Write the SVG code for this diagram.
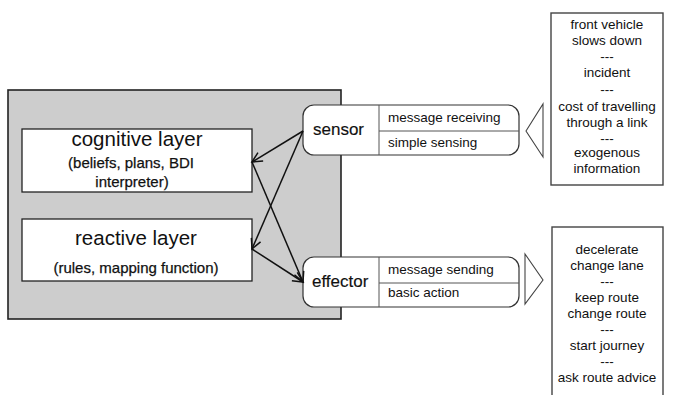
<svg xmlns="http://www.w3.org/2000/svg" width="680" height="395" viewBox="0 0 680 395">
  <defs>
    <style>
      text { font-family: "Liberation Sans", Arial, sans-serif; fill: #111; }
      .title { font-size: 20.5px; text-anchor: middle; }
      .sub { font-size: 15px; text-anchor: middle; stroke: #111; stroke-width: 0.25; }
      .io { font-size: 17px; stroke: #111; stroke-width: 0.15; }
      .item { font-size: 13.5px; }
      .list { font-size: 13.5px; text-anchor: middle; }
      .layer { fill: #fff; stroke: #222; stroke-width: 1.3; }
      .port { fill: #fff; stroke: #333; stroke-width: 1.2; }
      .div { stroke: #555; stroke-width: 1; }
      .info { fill: #fff; stroke: #444; stroke-width: 1.4; }
      .tri { fill: #fff; stroke: #444; stroke-width: 1.1; }
      .link { stroke: #111; stroke-width: 1.5; fill: none; marker-end: url(#arrow); }
    </style>
    <marker id="arrow" markerUnits="userSpaceOnUse" markerWidth="14" markerHeight="14" refX="11" refY="6" orient="auto">
      <path d="M1,1 L11,6 L1,11" fill="none" stroke="#111" stroke-width="1.5"/>
    </marker>
  </defs>

  <!-- agent body -->
  <g id="agent">
    <rect x="8" y="90" width="333" height="229" fill="#cdcdcd" stroke="#222" stroke-width="1.6"/>
  </g>

  <g id="cognitive-layer">
    <rect class="layer" x="22" y="129" width="230" height="63"/>
    <text class="title" x="137" y="146">cognitive layer</text>
    <text class="sub" x="131" y="168">(beliefs, plans, BDI</text>
    <text class="sub" x="132" y="187">interpreter)</text>
  </g>

  <g id="reactive-layer">
    <rect class="layer" x="22" y="219" width="230" height="62"/>
    <text class="title" x="136" y="245">reactive layer</text>
    <text class="sub" x="136" y="273">(rules, mapping function)</text>
  </g>

  <g id="sensor">
    <rect class="port" x="303" y="105" width="216" height="50" rx="11"/>
    <line class="div" x1="379" y1="105" x2="379" y2="155"/>
    <line class="div" x1="379" y1="131" x2="519" y2="131"/>
    <text class="io" x="313" y="135">sensor</text>
    <text class="item" x="388" y="122">message receiving</text>
    <text class="item" x="388" y="147">simple sensing</text>
  </g>

  <g id="effector">
    <rect class="port" x="303" y="257" width="216" height="50" rx="11"/>
    <line class="div" x1="379" y1="257" x2="379" y2="307"/>
    <line class="div" x1="379" y1="283" x2="519" y2="283"/>
    <text class="io" x="312" y="287">effector</text>
    <text class="item" x="388" y="274">message sending</text>
    <text class="item" x="388" y="297">basic action</text>
  </g>

  <g id="perception-input">
    <polygon class="tri" points="526,131 543,104 543,157"/>
    <rect class="info" x="551" y="13" width="112" height="172"/>
    <text class="list" x="607" y="29">front vehicle</text>
    <text class="list" x="607" y="45">slows down</text>
    <text class="list" x="607" y="61">---</text>
    <text class="list" x="607" y="77">incident</text>
    <text class="list" x="607" y="94">---</text>
    <text class="list" x="607" y="111">cost of travelling</text>
    <text class="list" x="607" y="127">through a link</text>
    <text class="list" x="607" y="143">---</text>
    <text class="list" x="607" y="157">exogenous</text>
    <text class="list" x="607" y="173">information</text>
  </g>

  <g id="action-output">
    <polygon class="tri" points="525,254 525,304 543,280"/>
    <rect class="info" x="552" y="227" width="111" height="180"/>
    <text class="list" x="607" y="254">decelerate</text>
    <text class="list" x="607" y="270">change lane</text>
    <text class="list" x="607" y="286">---</text>
    <text class="list" x="607" y="302">keep route</text>
    <text class="list" x="607" y="318">change route</text>
    <text class="list" x="607" y="334">---</text>
    <text class="list" x="607" y="350">start journey</text>
    <text class="list" x="607" y="366">---</text>
    <text class="list" x="607" y="382">ask route advice</text>
  </g>

  <!-- data flow between ports and layers -->
  <g id="connectors">
    <line class="link" x1="303" y1="131" x2="252" y2="162"/>
    <line class="link" x1="303" y1="131" x2="252" y2="249"/>
    <line class="link" x1="252" y1="162" x2="303" y2="282"/>
    <line class="link" x1="252" y1="249" x2="303" y2="282"/>
  </g>
</svg>
